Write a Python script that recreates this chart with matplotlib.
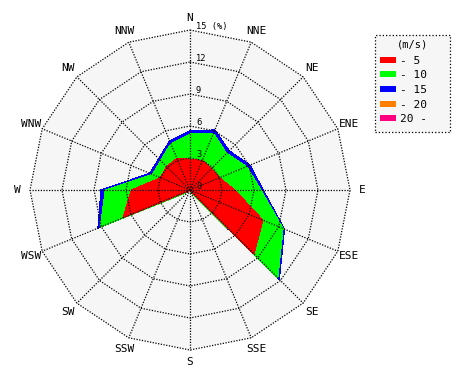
import numpy as np
import matplotlib
matplotlib.use("Agg")
import matplotlib.pyplot as plt
from matplotlib.patches import Patch, Rectangle

directions = ['N', 'NNE', 'NE', 'ENE', 'E', 'ESE', 'SE', 'SSE',
              'S', 'SSW', 'SW', 'WSW', 'W', 'WNW', 'NW', 'NNW']
# frequency (%) per speed class
speed_0_5   = [2.9, 3.0, 2.85, 3.0, 4.2, 7.4, 8.5, 0.1, 0.0, 0.0, 0.1, 6.8, 5.5, 3.0, 3.1, 3.2]
speed_5_10  = [2.35, 2.75, 2.0, 2.75, 2.45, 2.05, 3.15, 0.2, 0.0, 0.0, 0.2, 2.3, 2.45, 0.8, 0.8, 1.5]
speed_10_15 = [0.3, 0.35, 0.35, 0.35, 0.22, 0.15, 0.2, 0.0, 0.0, 0.0, 0.0, 0.25, 0.4, 0.3, 0.25, 0.3]
speed_15_20 = [0.0] * 16
speed_20_up = [0.0] * 16
class_labels = ['- 5', '- 10', '- 15', '- 20', '20 -']
class_colors = ['#ff0000', '#00ff00', '#0000ff', '#ff8000', '#ff0080']
ring_values = [3, 6, 9, 12, 15]
ring_labels = ['3', '6', '9', '12', '15 (%)']

plt.rcParams['font.family'] = ['DejaVu Sans Mono']

W, H = 470, 380
fig = plt.figure(figsize=(W / 100, H / 100), dpi=100)
fig.patch.set_facecolor('white')
ax = fig.add_axes([30/W, 30/H, 320/W, 320/H], projection='polar')
ax.set_theta_zero_location('N')
ax.set_theta_direction(-1)
ax.set_ylim(0, 15)
ax.grid(False)
ax.set_xticks([])
ax.set_yticks([])
ax.spines['polar'].set_visible(False)
ax.patch.set_visible(False)

theta = np.deg2rad(np.arange(16) * 22.5)
theta_c = np.append(theta, theta[0])

def closed(v):
    v = list(v)
    return np.array(v + v[:1])

# background polygon
ax.fill(theta_c, closed([15] * 16), color='#f6f6f6', zorder=0, clip_on=False, lw=0)

bands = [speed_0_5, speed_5_10, speed_10_15, speed_15_20, speed_20_up]
cum = np.cumsum(np.array(bands), axis=0)
for i in range(len(bands) - 1, -1, -1):
    ax.fill(theta_c, closed(cum[i]), color=class_colors[i], lw=0, zorder=1 + (5 - i) * 0.1,
            antialiased=False)

# grid
dot = (0, (1, 1.2))
for rv in ring_values:
    ax.plot(theta_c, closed([rv] * 16), color='black', lw=0.9, linestyle=dot, zorder=3, clip_on=False)
for t in theta:
    ax.plot([t, t], [0, 15], color='black', lw=0.9, linestyle=dot, zorder=3, clip_on=False)

# direction labels
for t, d in zip(theta, directions):
    ax.text(t, 16.15, d, ha='center', va='center', fontsize=8, zorder=4)

# radial labels
for rv, lab in zip([0] + ring_values, ['0'] + ring_labels):
    ax.annotate(lab, xy=(0, rv), xytext=(4.3, 2.2), textcoords='offset points',
                ha='left', va='center', fontsize=6.3, zorder=4)

# legend box
box = Rectangle((375/W, 1 - 132/H), 75/W, 97/H, transform=fig.transFigure,
                facecolor='#f6f6f6', edgecolor='black', linestyle=':', lw=0.9, zorder=0)
fig.patches.append(box)
fig.text(412.5/W, 1 - 44.5/H, '(m/s)', ha='center', va='center', fontsize=7.5)

handles = [Patch(facecolor=c, edgecolor='none') for c in class_colors]
leg = fig.legend(handles, class_labels, loc='upper left',
                 bbox_to_anchor=(380/W, 1 - 55.5/H), fontsize=8,
                 handlelength=1.45, handleheight=0.45, handletextpad=0.35,
                 labelspacing=0.42, borderpad=0, frameon=False, borderaxespad=0)

fig.savefig('out.png', dpi=100)
